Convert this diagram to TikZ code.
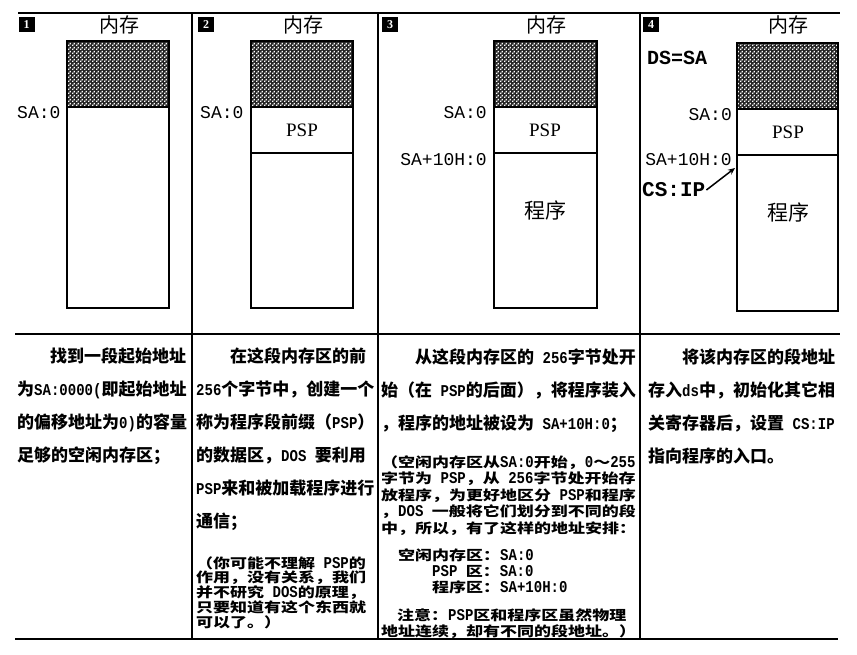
\documentclass[tikz,border=0pt]{standalone}
\usepackage{fontspec}
\setmainfont{Liberation Serif}
\newfontfamily\cjk{Noto Sans CJK SC}
\newfontfamily\cjksmall{Noto Sans CJK SC}[FakeStretch=1.25]
\newfontfamily\monof{Liberation Mono}
\newfontfamily\monon{Liberation Mono}[FakeStretch=0.85]
\usetikzlibrary{patterns,arrows.meta}
\pgfdeclarepatternformonly{memdots}{\pgfqpoint{0pt}{0pt}}{\pgfqpoint{4pt}{4pt}}{\pgfqpoint{4pt}{4pt}}{%
  \pgfpathrectangle{\pgfqpoint{0pt}{0pt}}{\pgfqpoint{1.7pt}{1.7pt}}%
  \pgfpathrectangle{\pgfqpoint{2pt}{2pt}}{\pgfqpoint{1.7pt}{1.7pt}}%
  \pgfusepath{fill}}
\newcommand\mtxt[1]{{\monon\fontsize{16.5}{16.5}\selectfont #1}}
\tikzset{
  bodytxt/.style={anchor=base west, inner sep=0pt, font=\cjk\bfseries\fontsize{17}{17}\selectfont},
  smalltxt/.style={anchor=base west, inner sep=0pt, font=\cjksmall\bfseries\fontsize{13.6}{14}\selectfont},
  memtitle/.style={inner sep=0pt, font=\cjk\fontsize{20}{20}\selectfont},
  progtxt/.style={inner sep=0pt, font=\cjk\fontsize{21}{21}\selectfont},
  addr/.style={inner sep=0pt, font=\monof\fontsize{18}{18}\selectfont},
  regtxt/.style={inner sep=0pt, anchor=west, font=\monof\bfseries\fontsize{20}{20}\selectfont},
  psptxt/.style={inner sep=0pt, font=\fontsize{19}{19}\selectfont},
  num/.style={fill=black, text=white, inner sep=0pt, minimum width=16pt, minimum height=15pt, font=\bfseries\fontsize{12}{12}\selectfont},
  membox/.style={draw, line width=1.3pt},
  hatch/.style={fill=black!85, postaction={pattern=memdots, pattern color=white}},
  divider/.style={line width=2.8pt},
  rulel/.style={line width=1.8pt},
}
\begin{document}
\begin{tikzpicture}[x=1pt,y=-1pt]
\useasboundingbox (0,0) rectangle (857,654);
% frame lines
\draw[rulel] (18,13) -- (840,13);
\draw[rulel] (15,334) -- (840,334);
\draw[rulel] (15,639) -- (838,639);
\draw[divider] (192,13) -- (192,639);
\draw[divider] (378,13) -- (378,639);
\draw[divider] (640,13) -- (640,639);
% panel numbers
\node[num] (n1) at (26.5,24.5) {1};
\node[num] (n2) at (206,24.5) {2};
\node[num] (n3) at (390,24.5) {3};
\node[num] (n4) at (651,24.5) {4};
% memory titles
\node[memtitle] (t1) at (119,25) {内存};
\node[memtitle] (t2) at (303,25) {内存};
\node[memtitle] (t3) at (546,25) {内存};
\node[memtitle] (t4) at (788,25) {内存};
% panel 1
\fill[hatch] (67,41) rectangle (169,107);
\draw[membox] (67,41) rectangle (169,308);
\draw[membox] (67,107) -- (169,107);
\node[addr, anchor=west] (a1) at (17,113) {SA:0};
% panel 2
\fill[hatch] (251,41) rectangle (353,107);
\draw[membox] (251,41) rectangle (353,308);
\draw[membox] (251,107) -- (353,107);
\draw[membox] (251,153) -- (353,153);
\node[psptxt] (psp2) at (302,130) {PSP};
\node[addr, anchor=west] (a2) at (200,113) {SA:0};
% panel 3
\fill[hatch] (494,41) rectangle (597,107);
\draw[membox] (494,41) rectangle (597,308);
\draw[membox] (494,107) -- (597,107);
\draw[membox] (494,153) -- (597,153);
\node[psptxt] (psp3) at (545,130) {PSP};
\node[progtxt] (prog3) at (545,210) {程序};
\node[addr, anchor=east] (a3) at (487,113) {SA:0};
\node[addr, anchor=east] (b3) at (487,160) {SA+10H:0};
% panel 4
\fill[hatch] (737,43) rectangle (838,109);
\draw[membox] (737,43) rectangle (838,311);
\draw[membox] (737,109) -- (838,109);
\draw[membox] (737,155) -- (838,155);
\node[psptxt] (psp4) at (788,132) {PSP};
\node[progtxt] (prog4) at (788,212) {程序};
\node[addr, anchor=east] (a4) at (732,115) {SA:0};
\node[addr, anchor=east] (b4) at (732,160) {SA+10H:0};
\node[regtxt] (ds) at (647,58) {DS=SA};
\node[regtxt, font=\monof\bfseries\fontsize{21}{21}\selectfont] (csip) at (642,190) {CS:IP};
\coordinate (csipto) at (735,168);
\draw[line width=1.5pt, -{Stealth[length=7pt,width=6pt]}] ([xshift=1pt]csip.east) -- (csipto);
% panel 1 text
\node[bodytxt] (p1a) at (50,362) {找到一段起始地址};
\node[bodytxt] (p1b) at (17,395) {为\mtxt{SA:0000(}即起始地址};
\node[bodytxt] (p1c) at (17,428) {的偏移地址为\mtxt{0)}的容量};
\node[bodytxt] (p1d) at (17,461) {足够的空闲内存区；};
% panel 2 text
\node[bodytxt] (p2a) at (230,362) {在这段内存区的前};
\node[bodytxt] (p2b) at (196,395) {\mtxt{256}个字节中，创建一个};
\node[bodytxt] (p2c) at (196,428) {称为程序段前缀（\mtxt{PSP}）};
\node[bodytxt] (p2d) at (196,461) {的数据区，\mtxt{DOS }要利用};
\node[bodytxt] (p2e) at (196,494) {\mtxt{PSP}来和被加载程序进行};
\node[bodytxt] (p2f) at (196,527) {通信；};
\node[smalltxt] (p2g) at (196,568) {（你可能不理解\mtxt{ PSP}的};
\node[smalltxt] (p2h) at (196,582.8) {作用，没有关系，我们};
\node[smalltxt] (p2i) at (196,597.6) {并不研究\mtxt{ DOS}的原理，};
\node[smalltxt] (p2j) at (196,612.4) {只要知道有这个东西就};
\node[smalltxt] (p2k) at (196,627.2) {可以了。）};
% panel 3 text
\node[bodytxt] (p3a) at (415,363) {从这段内存区的\mtxt{ 256}字节处开};
\node[bodytxt] (p3b) at (381,396) {始（在\mtxt{ PSP}的后面），将程序装入};
\node[bodytxt] (p3c) at (381,429) {，程序的地址被设为\mtxt{ SA+10H:0}；};
\node[smalltxt] (p3d) at (381,467) {（空闲内存区从\mtxt{SA:0}开始，\mtxt{0}～\mtxt{255}};
\node[smalltxt] (p3e) at (381,483.5) {字节为\mtxt{ PSP}，从\mtxt{ 256}字节处开始存};
\node[smalltxt] (p3f) at (381,500) {放程序，为更好地区分\mtxt{ PSP}和程序};
\node[smalltxt] (p3g) at (381,516.5) {，\mtxt{DOS }一般将它们划分到不同的段};
\node[smalltxt] (p3h) at (381,533) {中，所以，有了这样的地址安排：};
\node[smalltxt] (p3i) at (398,560) {空闲内存区：\mtxt{SA:0}};
\node[smalltxt] (p3j) at (432,576) {\mtxt{PSP }区：\mtxt{SA:0}};
\node[smalltxt] (p3k) at (432,592) {程序区：\mtxt{SA+10H:0}};
\node[smalltxt] (p3l) at (397,620) {注意：\mtxt{PSP}区和程序区虽然物理};
\node[smalltxt] (p3m) at (381,636) {地址连续，却有不同的段地址。）};
% panel 4 text
\node[bodytxt] (p4a) at (682,363) {将该内存区的段地址};
\node[bodytxt] (p4b) at (648,396) {存入\mtxt{ds}中，初始化其它相};
\node[bodytxt] (p4c) at (648,429) {关寄存器后，设置\mtxt{ CS:IP}};
\node[bodytxt] (p4d) at (648,462) {指向程序的入口。};
\end{tikzpicture}
\end{document}
